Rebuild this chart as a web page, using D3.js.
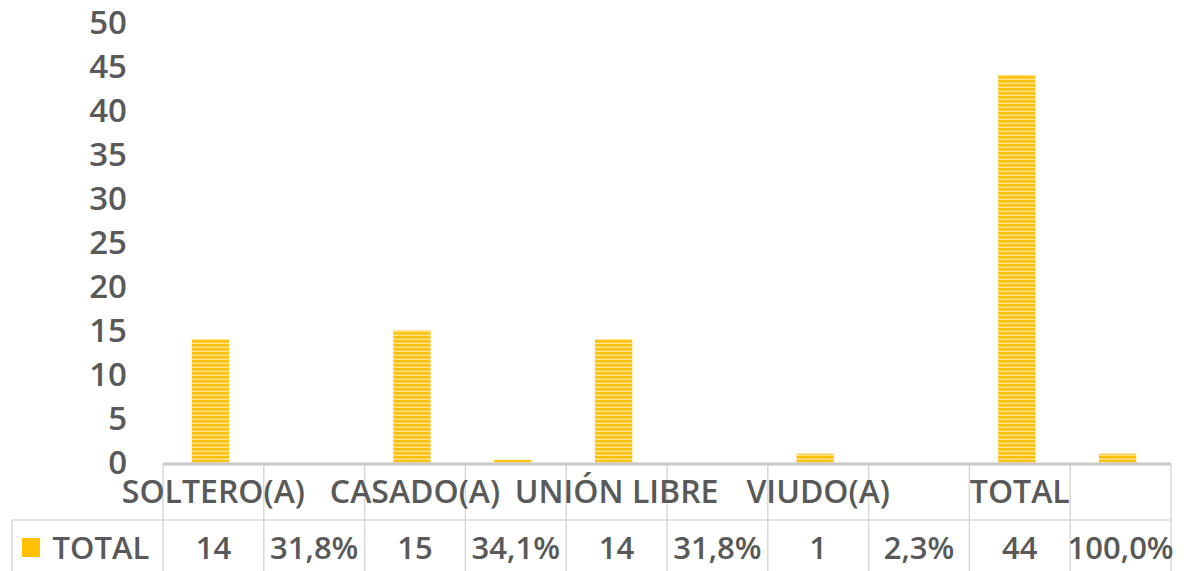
<!doctype html>
<html lang="es">
<head>
<meta charset="UTF-8">
<title>Estado civil</title>
<script src="https://d3js.org/d3.v7.min.js"></script>
<style>
  body { margin: 0; background: #fff; }
  text { font-family: "Open Sans", sans-serif; fill: #595959; font-weight: 600; }
</style>
</head>
<body>
<div id="chart"></div>
<script>
// data
const categories = ['SOLTERO(A)', '', 'CASADO(A)', '', 'UNIÓN LIBRE', '', 'VIUDO(A)', '', 'TOTAL', '']
// bar heights as they show in the picture (the % columns mostly vanish into the axis)
const values = [14, 0, 15, 0.3, 14, 0, 1, 0, 44, 1]
const tableLabels = ['14', '31,8%', '15', '34,1%', '14', '31,8%', '1', '2,3%', '44', '100,0%']
const seriesName = 'TOTAL'
const yTicks = [0, 5, 10, 15, 20, 25, 30, 35, 40, 45, 50]

const W = 1187, H = 571
const left = 163, right = 1171
const headTop = 465, rowTop = 520, rowBottom = 571
const gold = '#FFC000'
const grid = '#D9D9D9'

const svg = d3.select('#chart').append('svg')
    .attr('width', W)
    .attr('height', H)

// striped fill like the excel bars
const defs = svg.append('defs')
const pat = defs.append('pattern')
    .attr('id', 'stripes')
    .attr('patternUnits', 'userSpaceOnUse')
    .attr('width', 8)
    .attr('height', 4)
pat.append('rect').attr('width', 8).attr('height', 4).attr('fill', '#FCC10F')
pat.append('rect').attr('y', 2.6).attr('width', 8).attr('height', 1.4).attr('fill', '#FFE38A')

const idx = d3.range(categories.length)

// one cell per column of the table
const xCell = d3.scaleBand().domain(idx).range([left, right]).padding(0)
// bars centred in each cell
const xBar = d3.scaleBand().domain(idx).range([left - 3, right - 3])
    .paddingInner(0.63).paddingOuter(0.315)

const y = d3.scaleLinear().domain([0, 50]).range([462.5, 22])

// y axis labels
svg.append('g')
    .selectAll('text')
    .data(yTicks)
    .join('text')
    .attr('x', 127)
    .attr('y', d => y(d))
    .attr('dy', '0.36em')
    .attr('text-anchor', 'end')
    .style('font-size', '33px')
    .text(d => d)

// bars
svg.append('g')
    .selectAll('rect')
    .data(values)
    .join('rect')
    .attr('x', (d, i) => xBar(i))
    .attr('y', d => y(d))
    .attr('width', xBar.bandwidth())
    .attr('height', d => y(0) - y(d))
    .attr('fill', 'url(#stripes)')

// table lines
const tbl = svg.append('g')
    .attr('stroke', grid)
    .attr('stroke-width', 1.5)
tbl.selectAll('line.v')
    .data(d3.range(categories.length + 1))
    .join('line')
    .attr('class', 'v')
    .attr('x1', i => left + i * xCell.step())
    .attr('x2', i => left + i * xCell.step())
    .attr('y1', headTop)
    .attr('y2', rowBottom)
tbl.append('line')
    .attr('x1', 12).attr('x2', right)
    .attr('y1', rowTop).attr('y2', rowTop)
tbl.append('line')
    .attr('x1', 12).attr('x2', 12)
    .attr('y1', rowTop).attr('y2', rowBottom)

// category axis line
svg.append('line')
    .attr('x1', left).attr('x2', right)
    .attr('y1', y(0) + 1.5).attr('y2', y(0) + 1.5)
    .attr('stroke', '#C8C8C8')
    .attr('stroke-width', 3)

// header labels
svg.append('g')
    .selectAll('text')
    .data(categories)
    .join('text')
    .attr('x', (d, i) => xCell(i) + xCell.bandwidth() / 2)
    .attr('y', 491)
    .attr('dy', '0.36em')
    .attr('text-anchor', 'middle')
    .style('font-size', '32px')
    .text(d => d)

// data row
svg.append('g')
    .selectAll('text')
    .data(tableLabels)
    .join('text')
    .attr('x', (d, i) => xCell(i) + xCell.bandwidth() / 2)
    .attr('y', 548)
    .attr('dy', '0.36em')
    .attr('text-anchor', 'middle')
    .style('font-size', '31px')
    .text(d => d)

// legend key + series name
svg.append('rect')
    .attr('x', 22).attr('y', 538)
    .attr('width', 18).attr('height', 19)
    .attr('fill', gold)
svg.append('text')
    .attr('x', 101)
    .attr('y', 548)
    .attr('dy', '0.36em')
    .attr('text-anchor', 'middle')
    .style('font-size', '31px')
    .text(seriesName)
</script>
</body>
</html>
